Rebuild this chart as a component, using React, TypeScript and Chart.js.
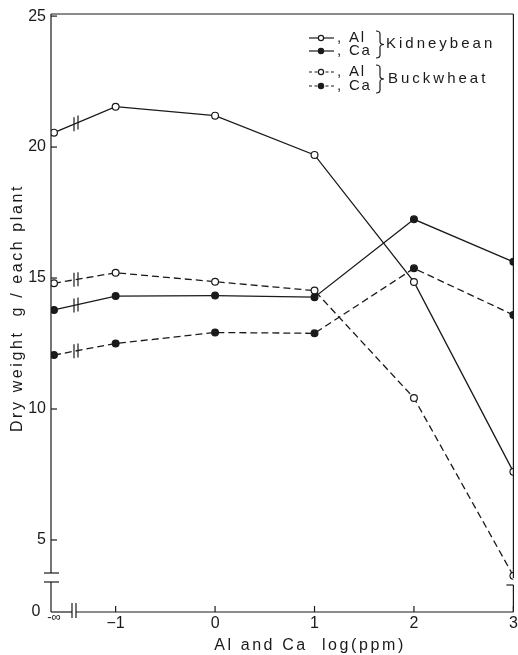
import React, { useEffect, useRef } from 'react';
import { Chart, registerables } from 'chart.js';

Chart.register(...registerables);

// Concentration axis: log(ppm); the "−∞" column is the no-addition control.
const X_NEG_INF = -1.62;
const X_VALUES = [X_NEG_INF, -1, 0, 1, 2, 3];
const X_TICKS = [X_NEG_INF, -1, 0, 1, 2, 3];

// Dry weight axis is broken below 5; its bottom edge is labelled 0.
const Y_BASE = 2.25;
const Y_TOP = 25.08;
const Y_TICKS = [5, 10, 15, 20, 25];

// Dry weight, g / each plant
const KIDNEYBEAN_AL = [20.55, 21.54, 21.2, 19.7, 14.85, 7.6];
const KIDNEYBEAN_CA = [13.78, 14.31, 14.33, 14.27, 17.24, 15.62];
const BUCKWHEAT_AL = [14.8, 15.2, 14.86, 14.52, 10.42, 3.63];
const BUCKWHEAT_CA = [12.06, 12.5, 12.92, 12.89, 15.37, 13.59];

const INK = '#1a1a1a';
const FONT = '"Liberation Sans", Arial, sans-serif';
const DASH = [7, 4];

function series(values: number[], filled: boolean, dashed: boolean) {
  return {
    data: X_VALUES.map((x, i) => ({ x, y: values[i] })),
    borderColor: INK,
    borderWidth: 1.3,
    borderDash: dashed ? DASH : [],
    pointRadius: 3.4,
    pointHoverRadius: 3.4,
    pointBorderWidth: 1.2,
    pointBorderColor: INK,
    pointBackgroundColor: filled ? INK : '#ffffff',
    tension: 0,
    fill: false,
  };
}

function line(ctx: CanvasRenderingContext2D, x1: number, y1: number, x2: number, y2: number) {
  ctx.beginPath();
  ctx.moveTo(x1, y1);
  ctx.lineTo(x2, y2);
  ctx.stroke();
}

function brace(ctx: CanvasRenderingContext2D, x: number, y1: number, y2: number, w: number) {
  const mid = (y1 + y2) / 2;
  const xm = x + w / 2;
  ctx.beginPath();
  ctx.moveTo(x, y1);
  ctx.quadraticCurveTo(xm, y1, xm, y1 + 3);
  ctx.lineTo(xm, mid - 3);
  ctx.quadraticCurveTo(xm, mid, x + w, mid);
  ctx.quadraticCurveTo(xm, mid, xm, mid + 3);
  ctx.lineTo(xm, y2 - 3);
  ctx.quadraticCurveTo(xm, y2, x, y2);
  ctx.stroke();
}

const decorations = {
  id: 'decorations',
  afterDatasetsDraw(chart: any) {
    const { ctx, chartArea: a, scales } = chart;
    const xs = scales.x;
    const ys = scales.y;
    const L = a.left;
    const R = a.right;
    const T = a.top;
    const B = a.bottom;
    ctx.save();
    ctx.strokeStyle = INK;
    ctx.fillStyle = INK;
    ctx.lineWidth = 1.2;
    ctx.setLineDash([]);

    // frame with axis breaks
    const yb1 = B - 39;
    const yb2 = B - 30;
    line(ctx, L, T, L, yb1);
    line(ctx, L, yb2, L, B);
    line(ctx, L - 7, yb1, L + 8, yb1);
    line(ctx, L - 7, yb2, L + 8, yb2);
    const xb1 = L + 21;
    const xb2 = L + 25;
    line(ctx, L, B, xb1, B);
    line(ctx, xb2, B, R, B);
    line(ctx, xb1, B - 9, xb1, B + 6);
    line(ctx, xb2, B - 9, xb2, B + 6);
    line(ctx, L, T, R, T);
    line(ctx, R, T, R, B - 34);
    line(ctx, R, B - 27, R, B);
    line(ctx, R - 7, B - 27, R, B - 27);

    // inward tick marks
    Y_TICKS.forEach((v) => {
      const py = ys.getPixelForValue(v);
      line(ctx, L, py, L + 6, py);
    });
    X_TICKS.slice(1).forEach((v) => {
      const px = xs.getPixelForValue(v);
      line(ctx, px, B, px, B - 6);
    });

    // break marks across every curve between the control and −1
    chart.data.datasets.forEach((_: any, i: number) => {
      const pts = chart.getDatasetMeta(i).data;
      const p0 = pts[0];
      const p1 = pts[1];
      [xb1 + 2, xb2 + 2].forEach((bx) => {
        const by = p0.y + ((p1.y - p0.y) * (bx - p0.x)) / (p1.x - p0.x);
        line(ctx, bx, by - 7, bx, by + 7);
      });
    });

    // special axis labels
    ctx.textBaseline = 'middle';
    ctx.textAlign = 'center';
    ctx.font = `16px ${FONT}`;
    ctx.fillText('0', L - 15, B);
    ctx.font = `13px ${FONT}`;
    ctx.fillText('-∞', xs.getPixelForValue(X_NEG_INF), B + 5);

    // axis titles
    ctx.font = `16px ${FONT}`;
    (ctx as any).letterSpacing = '2.6px';
    ctx.fillText('Al and Ca  log(ppm)', 310, 646);
    ctx.save();
    ctx.translate(18, 308);
    ctx.rotate(-Math.PI / 2);
    ctx.fillText('Dry weight  g / each plant', 0, 0);
    ctx.restore();

    // legend
    const rows = [
      { y: 38, dashed: false, filled: false, text: ', Al' },
      { y: 51, dashed: false, filled: true, text: ', Ca' },
      { y: 72, dashed: true, filled: false, text: ', Al' },
      { y: 86, dashed: true, filled: true, text: ', Ca' },
    ];
    ctx.font = `15px ${FONT}`;
    (ctx as any).letterSpacing = '1.8px';
    ctx.textAlign = 'left';
    rows.forEach((r) => {
      ctx.setLineDash(r.dashed ? [3, 2.5] : []);
      line(ctx, 309, r.y, 334, r.y);
      ctx.setLineDash([]);
      ctx.beginPath();
      ctx.arc(321, r.y, 2.6, 0, Math.PI * 2);
      ctx.fillStyle = r.filled ? INK : '#ffffff';
      ctx.fill();
      ctx.stroke();
      ctx.fillStyle = INK;
      ctx.fillText(r.text, 337, r.y);
    });
    brace(ctx, 376, 31, 58, 8);
    brace(ctx, 376, 65, 93, 8);
    (ctx as any).letterSpacing = '3px';
    ctx.fillText('Kidneybean', 386, 44);
    ctx.fillText('Buckwheat', 388, 79);
    ctx.restore();
  },
};

export default function App() {
  const ref = useRef<HTMLCanvasElement>(null);

  useEffect(() => {
    const chart = new Chart(ref.current as HTMLCanvasElement, {
      type: 'line',
      data: {
        datasets: [
          series(KIDNEYBEAN_AL, false, false),
          series(KIDNEYBEAN_CA, true, false),
          series(BUCKWHEAT_AL, false, true),
          series(BUCKWHEAT_CA, true, true),
        ] as any,
      },
      options: {
        responsive: false,
        devicePixelRatio: 1,
        animation: false,
        layout: { padding: { top: 14, right: 4, left: 0, bottom: 0 } },
        plugins: {
          legend: { display: false },
          tooltip: { enabled: false },
        },
        scales: {
          x: {
            type: 'linear',
            min: -1.65,
            max: 3,
            grid: { display: false, drawTicks: false },
            border: { display: false },
            afterBuildTicks: (s: any) => {
              s.ticks = X_TICKS.map((value) => ({ value }));
            },
            afterFit: (s: any) => {
              s.height = 43;
              s.paddingLeft = 0;
              s.paddingRight = 0;
            },
            ticks: {
              autoSkip: false,
              maxRotation: 0,
              padding: 2,
              color: INK,
              font: { family: FONT, size: 16 },
              callback: (v: any) =>
                v === X_NEG_INF ? '' : v < 0 ? '−' + Math.abs(v) : String(v),
            },
          },
          y: {
            type: 'linear',
            min: Y_BASE,
            max: Y_TOP,
            grid: { display: false, drawTicks: false },
            border: { display: false },
            afterBuildTicks: (s: any) => {
              s.ticks = Y_TICKS.map((value) => ({ value }));
            },
            afterFit: (s: any) => {
              s.width = 51;
              s.paddingTop = 0;
              s.paddingBottom = 0;
            },
            ticks: {
              padding: 5,
              color: INK,
              font: { family: FONT, size: 16 },
              callback: (v: any) => String(v),
            },
          },
        },
      },
      plugins: [decorations],
    });
    return () => chart.destroy();
  }, []);

  return (
    <div style={{ position: 'absolute', left: 0, top: 0, width: 518, height: 655, background: '#ffffff' }}>
      <canvas ref={ref} width={518} height={655} style={{ display: 'block', width: 518, height: 655 }} />
    </div>
  );
}
